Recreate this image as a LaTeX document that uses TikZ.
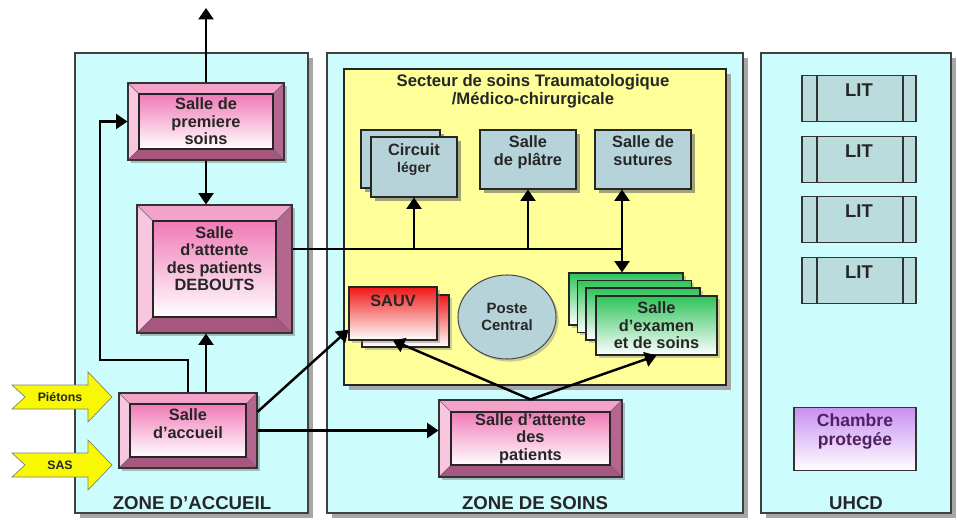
\documentclass[tikz,border=0pt]{standalone}
\usepackage{fontspec}
\setmainfont{Liberation Sans}
\usetikzlibrary{arrows.meta,positioning,shadows,shapes.geometric}
\definecolor{zonecyan}{HTML}{CCFCFC}
\definecolor{secteur}{HTML}{FFFF99}
\definecolor{ardoise}{HTML}{B7D3DA}
\definecolor{litbleu}{HTML}{BADCDC}
\definecolor{rosevif}{HTML}{F07AB6}
\definecolor{rosehaut}{HTML}{F3A2CA}
\definecolor{roseclair}{HTML}{F8C6DF}
\definecolor{mauve}{HTML}{B4668F}
\definecolor{mauvefonce}{HTML}{A55780}
\definecolor{vert}{HTML}{2EC45A}
\definecolor{rouge}{HTML}{F01818}
\definecolor{violet}{HTML}{C890F2}
\definecolor{violetfonce}{HTML}{502060}
\definecolor{jaune}{HTML}{F8F800}
\definecolor{encre}{HTML}{262626}
\newdimen\px \px=0.02cm

\begin{document}
\begin{tikzpicture}[
      x=0.02cm, y=-0.02cm,
      font=\bfseries\fontsize{9.3}{10}\selectfont, text=encre,
      bev/.store in=\bev, bev=0.22cm,
      zone/.style={
        draw=black!75, line width=0.8pt, fill=zonecyan,
        drop shadow={shadow xshift=5\px, shadow yshift=-5\px, fill=black!35, opacity=1}
      },
      soinsfond/.style={
        draw=black!85, line width=0.8pt, fill=secteur,
        drop shadow={shadow xshift=5\px, shadow yshift=-5\px, fill=black!35, opacity=1}
      },
      salle/.style={
        draw=black!80, line width=0.6pt, fill=mauve, align=center,
        drop shadow={shadow xshift=1.5pt, shadow yshift=-1.5pt, opacity=0.5},
        path picture={
          \path (path picture bounding box.north west) coordinate (nw)
                (path picture bounding box.north east) coordinate (ne)
                (path picture bounding box.south west) coordinate (sw)
                (path picture bounding box.south east) coordinate (se)
                ([shift={(\bev,-\bev)}]nw) coordinate (inw)
                ([shift={(-\bev,-\bev)}]ne) coordinate (ine)
                ([shift={(\bev,\bev)}]sw) coordinate (isw)
                ([shift={(-\bev,\bev)}]se) coordinate (ise);
          \fill[rosehaut] (nw) -- (ne) -- (ine) -- (inw) -- cycle;
          \fill[roseclair] (nw) -- (inw) -- (isw) -- (sw) -- cycle;
          \fill[mauve] (ne) -- (se) -- (ise) -- (ine) -- cycle;
          \fill[mauvefonce] (sw) -- (isw) -- (ise) -- (se) -- cycle;
          \draw[black!60, line width=0.3pt] (nw) -- (inw) (ne) -- (ine) (sw) -- (isw) (se) -- (ise);
          \shadedraw[top color=rosevif, bottom color=white, draw=black!85, line width=0.6pt] (inw) rectangle (ise);
        }
      },
      boite/.style={
        draw=black!85, line width=0.6pt, fill=ardoise, align=center,
        drop shadow={shadow xshift=2pt, shadow yshift=-2pt, fill=black!60, opacity=0.6}
      },
      rougebox/.style={
        draw=black!85, line width=0.6pt, top color=rouge, bottom color=white, align=center,
        drop shadow={shadow xshift=1.5pt, shadow yshift=-1.5pt, opacity=0.4}
      },
      vertbox/.style={
        draw=black!85, line width=0.6pt, top color=vert, bottom color=white, align=center,
        drop shadow={shadow xshift=1.5pt, shadow yshift=-1.5pt, opacity=0.4}
      },
      lit/.style={
        draw=black!80, line width=0.6pt, fill=litbleu, align=center,
        minimum width=114\px, minimum height=46\px, font=\bfseries\fontsize{10.5}{10}\selectfont,
        path picture={
          \draw[black!80, line width=0.6pt]
            ([xshift=15\px]path picture bounding box.north west) -- ([xshift=15\px]path picture bounding box.south west)
            ([xshift=-13\px]path picture bounding box.north east) -- ([xshift=-13\px]path picture bounding box.south east);
        }
      },
      zonetitre/.style={font=\bfseries\fontsize{10.6}{12}\selectfont},
      ligne/.style={line width=1.4pt, draw=black},
      fleche/.style={-{Triangle[length=6.5pt, width=8.5pt]}, line width=1.4pt, draw=black}
    ]
    \useasboundingbox (0,0) rectangle (957,520);

    \draw[zone] (75,53) rectangle (308,513);
    \draw[zone] (327,53) rectangle (743,513);
    \draw[zone] (761,53) rectangle (951,513);
    \draw[soinsfond] (344,69) rectangle (726,385);

    \node[zonetitre] (titreaccueil) at (192,503) {ZONE D'ACCUEIL};
    \node[zonetitre] (titresoins) at (535,503) {ZONE DE SOINS};
    \node[zonetitre] (titreuhcd) at (856,503) {UHCD};
    \node[align=center, font=\bfseries\fontsize{9.5}{10}\selectfont] (titresecteur) at (533,91)
      {Secteur de soins Traumatologique\\/Médico-chirurgicale};

    \node[salle, minimum width=156\px, minimum height=77\px] (soins) at (206,121.5) {Salle de\\premiere\\soins};
    \node[salle, bev=0.32cm, minimum width=155\px, minimum height=128\px] (attdeb) at (214.5,269)
      {Salle\\d'attente\\des patients\\DEBOUTS\\[2pt]\mbox{}};
    \node[salle, minimum width=138\px, minimum height=75\px] (accueil) at (188,430.5) {Salle\\d'accueil\\[-2pt]\mbox{}};
    \node[salle, bev=0.24cm, minimum width=183\px, minimum height=77\px] (attpat) at (530.5,438.5)
      {Salle d'attente\\des\\patients};

    \node[boite, minimum width=79\px, minimum height=58\px] (circuitb) at (400.5,159) {};
    \node[boite, minimum width=86\px, minimum height=60\px] (circuit) at (414,167)
      {Circuit\\{\fontsize{8}{9}\selectfont léger}\\\mbox{}};
    \node[boite, minimum width=96\px, minimum height=59\px] (platre) at (528,159.5) {Salle\\de plâtre\\\mbox{}};
    \node[boite, minimum width=96\px, minimum height=59\px] (sutures) at (643,159.5) {Salle de\\sutures\\\mbox{}};

    \node[rougebox, minimum width=87\px, minimum height=52\px] (sauvb) at (405.5,321) {};
    \node[rougebox, minimum width=88\px, minimum height=53\px, font=\bfseries\fontsize{9.3}{11}\selectfont]
      (sauv) at (393,313.5) {SAUV\\[4pt]\mbox{}};
    \node[ellipse, draw=black!70, line width=0.6pt, fill=ardoise, minimum width=98\px, minimum height=84\px,
      align=center, font=\bfseries\fontsize{8.5}{9.5}\selectfont,
      drop shadow={shadow xshift=1.5pt, shadow yshift=-1.5pt, opacity=0.4}] (poste) at (507,317) {Poste\\Central};

    \foreach \i/\cx/\cy in {1/626/299, 2/634.5/306.5, 3/643/314}
      \node[vertbox, minimum width=114\px, minimum height=52\px] (pile\i) at (\cx,\cy) {};
    \node[vertbox, minimum width=121\px, minimum height=59\px] (examen) at (656.5,325.5)
      {Salle\\d'examen\\et de soins};

    \foreach \i/\y in {1/98.5, 2/159.5, 3/219.5, 4/280.5}
      \node[lit] (lit\i) at (859,\y) {LIT\\\mbox{}};
    \node[draw=black!80, line width=0.6pt, top color=violet, bottom color=white, align=center,
      minimum width=122\px, minimum height=62\px, text=violetfonce,
      font=\bfseries\fontsize{10}{11}\selectfont] (chambre) at (855,439) {Chambre\\protegée\\\mbox{}};

    \coordinate (sortie) at (205,8);
    \coordinate (jonction) at (622,249);
    \coordinate (boucle) at (100,360);

    \draw[fleche] (soins.north) -- (soins.north |- sortie);
    \draw[fleche] (soins.south) -- (soins.south |- attdeb.north);
    \draw[fleche] (soins.south |- accueil.north) -- (soins.south |- attdeb.south);
    \draw[fleche] (accueil.north) |- (boucle) |- (soins.west);
    \draw[fleche] (accueil.15) -- (sauv.200);
    \draw[fleche] (accueil.east) -- (accueil.east -| attpat.west);
    \draw[ligne] (attdeb.east |- jonction) -- (jonction);
    \draw[fleche] (circuit.south |- jonction) -- (circuit.south);
    \draw[fleche] (platre.south |- jonction) -- (platre.south);
    \draw[fleche] (jonction) -- (jonction |- sutures.south);
    \draw[fleche] (jonction) -- (jonction |- pile1.north);
    \draw[fleche] (attpat.north) -- (sauv.south);
    \draw[fleche] (attpat.north) -- (examen.south);

    \foreach \nom/\y/\texte in {pietons/397/Piétons, sas/465/SAS}{
      \filldraw[fill=jaune, draw=black!50, line width=0.4pt]
        (12,\y-12) -- (88,\y-12) -- (88,\y-25) -- (112,\y) -- (88,\y+25) -- (88,\y+12) -- (12,\y+12) -- (25,\y) -- cycle;
      \node[font=\bfseries\fontsize{7}{8}\selectfont] (\nom) at (60,\y) {\texte};
    }
  \end{tikzpicture}
\end{document}
